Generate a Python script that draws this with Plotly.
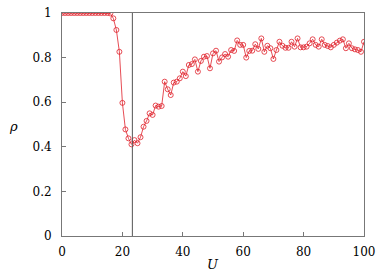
import plotly.graph_objects as go

U = list(range(0, 101))
rho = [
    1.0, 1.0, 1.0, 1.0, 1.0, 1.0, 1.0, 1.0, 1.0, 1.0,
    1.0, 1.0, 1.0, 1.0, 1.0, 1.0, 0.998, 0.976, 0.924, 0.826,
    0.597, 0.478, 0.438, 0.411, 0.43, 0.416, 0.443, 0.49, 0.516, 0.55,
    0.543, 0.585, 0.58, 0.583, 0.692, 0.658, 0.632, 0.688, 0.692, 0.707,
    0.737, 0.717, 0.767, 0.771, 0.792, 0.737, 0.785, 0.804, 0.807, 0.752,
    0.819, 0.831, 0.782, 0.801, 0.816, 0.804, 0.834, 0.83, 0.877, 0.857,
    0.857, 0.8, 0.83, 0.831, 0.86, 0.839, 0.886, 0.826, 0.853, 0.842,
    0.794, 0.834, 0.871, 0.853, 0.844, 0.844, 0.871, 0.849, 0.886, 0.846,
    0.846, 0.849, 0.864, 0.882, 0.857, 0.849, 0.882, 0.857, 0.852, 0.846,
    0.857, 0.867, 0.876, 0.882, 0.842, 0.864, 0.842, 0.837, 0.834, 0.826,
    0.871,
]
U_crit = 23.3

x_ticks = [0, 20, 40, 60, 80, 100]
y_ticks = [0, 0.2, 0.4, 0.6, 0.8, 1]
y_tick_text = ["0", "0.2", "0.4", "0.6", "0.8", "1"]

FONT = "DejaVu Serif"
AXIS_COLOR = "#777777"

fig = go.Figure()
fig.add_trace(go.Scatter(
    x=U, y=rho, mode="lines+markers",
    line=dict(color="#e0202a", width=0.8),
    marker=dict(symbol="circle-open", size=5, color="#e0202a", line=dict(width=0.8)),
    showlegend=False,
))
fig.add_shape(type="line", x0=U_crit, x1=U_crit, y0=0, y1=1, xref="x", yref="paper",
              line=dict(color="#555555", width=1))

fig.update_layout(
    width=380, height=280,
    margin=dict(l=62, r=16, t=13, b=44, autoexpand=False),
    paper_bgcolor="white", plot_bgcolor="white",
    font=dict(family=FONT, size=12, color="black"),
    xaxis=dict(range=[0, 100], tickvals=x_ticks, ticks="inside", ticklen=4,
               tickcolor=AXIS_COLOR, showline=True, linecolor=AXIS_COLOR, linewidth=1,
               mirror=True, showgrid=False, zeroline=False, ticklabelstandoff=5),
    yaxis=dict(range=[0, 1], tickvals=y_ticks, ticktext=y_tick_text, ticks="inside",
               ticklen=4, tickcolor=AXIS_COLOR, showline=True, linecolor=AXIS_COLOR,
               linewidth=1, mirror=True, showgrid=False, zeroline=False,
               ticklabelstandoff=7),
    annotations=[
        dict(text="<i>U</i>", x=0.5, y=(236 - 264) / 223, xref="paper", yref="paper",
             xanchor="center", yanchor="middle", showarrow=False,
             font=dict(family=FONT, size=13)),
        dict(text="<i>ρ</i>", x=(13 - 62) / 302, y=(236 - 127) / 223,
             xref="paper", yref="paper", xanchor="center", yanchor="middle",
             showarrow=False, font=dict(family=FONT, size=13)),
    ],
)
fig.write_html("out.html", config={"displayModeBar": False},
               post_script="document.body.style.margin='0';")
